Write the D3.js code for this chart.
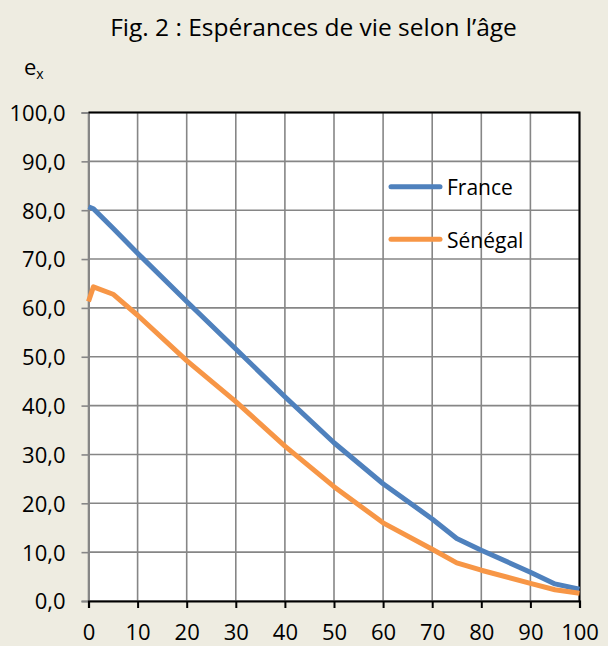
<!DOCTYPE html>
<html>
<head>
<meta charset="utf-8">
<script src="https://cdn.jsdelivr.net/npm/d3@7"></script>
<style>
  html, body { margin: 0; padding: 0; background: #eeece1; }
  svg { display: block; font-family: "Open Sans", sans-serif; }
</style>
</head>
<body>
<svg id="chart" width="608" height="646"></svg>
<script>
// ages (x) and life expectancy at each age (e_x)
const ages    = [0, 1, 5, 10, 20, 30, 40, 50, 60, 70, 75, 80, 90, 95, 100];
const france  = [80.7, 80.3, 76.3, 71.2, 61.3, 51.6, 41.8, 32.4, 24.0, 16.8, 12.8, 10.4, 5.9, 3.5, 2.4];
const senegal = [61.3, 64.3, 62.8, 58.5, 49.2, 40.8, 31.7, 23.4, 16.0, 10.6, 7.8, 6.3, 3.6, 2.3, 1.6];
const xTicks  = [0, 10, 20, 30, 40, 50, 60, 70, 80, 90, 100];
const yTicks  = [0, 10, 20, 30, 40, 50, 60, 70, 80, 90, 100];

const series = [
  {name: "France", values: france, color: "#4f81bd"},
  {name: "Sénégal", values: senegal, color: "#f79646"}
];

const svg = d3.select("#chart");
const fmt = d => d3.format(".1f")(d).replace(".", ",");

const x = d3.scaleLinear().domain([0, 100]).range([88.5, 579.5]);
const y = d3.scaleLinear().domain([0, 100]).range([601, 112.5]);

// title + y label
svg.append("text")
  .attr("x", 313.5).attr("y", 36)
  .attr("text-anchor", "middle")
  .attr("font-size", 24.5).attr("fill", "#000")
  .text("Fig. 2 : Espérances de vie selon l’âge");

const ex = svg.append("text").attr("x", 24).attr("y", 75).attr("font-size", 22);
ex.append("tspan").text("e");
ex.append("tspan").attr("font-size", 14).attr("dy", 4).text("x");

// plot area
svg.append("rect")
  .attr("x", x(0)).attr("y", y(100))
  .attr("width", x(100) - x(0)).attr("height", y(0) - y(100))
  .attr("fill", "#fff");

// gridlines
svg.append("g")
  .selectAll("line").data(yTicks).join("line")
  .attr("x1", x(0)).attr("x2", x(100))
  .attr("y1", d => y(d)).attr("y2", d => y(d))
  .attr("stroke", "#868686").attr("stroke-width", 1.6);

svg.append("g")
  .selectAll("line").data(xTicks).join("line")
  .attr("x1", d => x(d)).attr("x2", d => x(d))
  .attr("y1", y(0)).attr("y2", y(100))
  .attr("stroke", "#868686").attr("stroke-width", 1.6);

// y axis (grey, ticks outside)
const yAxis = svg.append("g")
  .attr("transform", `translate(${x(0)},0)`)
  .call(d3.axisLeft(y).tickValues(yTicks).tickSize(7).tickPadding(0).tickFormat(fmt));
yAxis.select(".domain").attr("stroke", "#868686").attr("stroke-width", 2);
yAxis.selectAll(".tick line").attr("stroke", "#868686").attr("stroke-width", 1.6);
yAxis.selectAll(".tick text")
  .attr("font-family", "Open Sans").attr("font-size", 22).attr("fill", "#000")
  .attr("x", -23).attr("dy", "0.36em");

// border top/right
svg.append("path")
  .attr("d", `M${x(0)},${y(100)}H${x(100)}V${y(0)}`)
  .attr("fill", "none").attr("stroke", "#000").attr("stroke-width", 2);

// x axis (black, ticks below)
const xAxis = svg.append("g")
  .attr("transform", `translate(0,${y(0)})`)
  .call(d3.axisBottom(x).tickValues(xTicks).tickSize(7).tickPadding(0));
xAxis.select(".domain").attr("stroke", "#000").attr("stroke-width", 2.2);
xAxis.selectAll(".tick line").attr("stroke", "#000").attr("stroke-width", 2);
xAxis.selectAll(".tick text")
  .attr("font-family", "Open Sans").attr("font-size", 22).attr("fill", "#000")
  .attr("y", 23.5).attr("dy", "0.71em");

// lines
const line = d3.line()
  .x((d, i) => x(ages[i]))
  .y(d => y(d));

svg.append("g")
  .selectAll("path").data(series).join("path")
  .attr("d", d => line(d.values))
  .attr("fill", "none")
  .attr("stroke", d => d.color)
  .attr("stroke-width", 5)
  .attr("stroke-linejoin", "round");

// legend
const legend = svg.append("g")
  .selectAll("g").data(series).join("g")
  .attr("transform", (d, i) => `translate(391,${186.7 + i * 52.6})`);
legend.append("line")
  .attr("x1", 0).attr("x2", 49)
  .attr("stroke", d => d.color).attr("stroke-width", 5)
  .attr("stroke-linecap", "round");
legend.append("text")
  .attr("x", 56).attr("y", 8.3)
  .attr("font-size", 21).attr("fill", "#000")
  .text(d => d.name);
</script>
</body>
</html>
